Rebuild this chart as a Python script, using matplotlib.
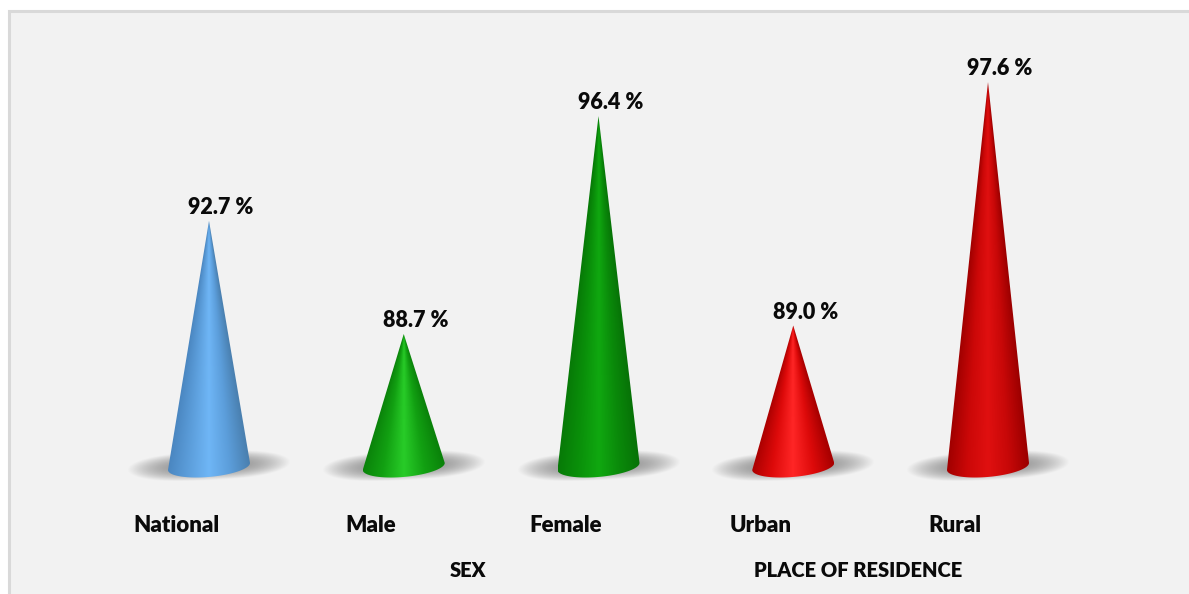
import numpy as np
import matplotlib
matplotlib.use("Agg")
import matplotlib.pyplot as plt
from matplotlib.colors import LinearSegmentedColormap
from matplotlib.patches import Polygon, Rectangle

plt.rcParams["font.family"] = ["Lato", "DejaVu Sans"]

categories = ["National", "Male", "Female", "Urban", "Rural"]
values = [92.7, 88.7, 96.4, 89.0, 97.6]
value_labels = ["92.7 %", "88.7 %", "96.4 %", "89.0 %", "97.6 %"]
groups = ["SEX", "PLACE OF RESIDENCE"]
group_pos = [1.5, 3.5]
# left edge -> highlight -> right edge
cone_colors = [
    ["#4a86c0", "#5c9edb", "#6fb6f6", "#5c9edb", "#4a80b0"],
    ["#0a820a", "#12a012", "#28cc28", "#12a012", "#0a820a"],
    ["#077a07", "#0a900a", "#10a810", "#0a8a0a", "#077207"],
    ["#a80000", "#dd0a0a", "#ff2626", "#dd0a0a", "#a80000"],
    ["#a00000", "#cc0808", "#e01010", "#c80808", "#9c0000"],
]

W, H = 1189, 594
x0_px, dx_px = 209.0, 194.75
val_ref, y_ref, px_per_val = 88.7, 334.0, 28.3
base_val = 84.02


def y_val(px):
    return val_ref + (y_ref - px) / px_per_val


def set_limits():
    ax.set_xlim(-x0_px / dx_px, (W - x0_px) / dx_px)
    ax.set_ylim(y_val(H), y_val(0))


fig = plt.figure(figsize=(W / 100, H / 100), dpi=100, facecolor="white")
ax = fig.add_axes([0, 0, 1, 1])
ax.axis("off")
set_limits()

# panel background, open towards the right and bottom
ax.add_patch(Rectangle((8.5 / W, -0.02), 1.1, 1.02 - 10.5 / H, transform=ax.transAxes,
                       fc="#f2f2f2", ec="#d9d9d9", lw=2.2, zorder=0))

half_w = 41 / dx_px
ell_b = 10.5 / px_per_val
ell_tilt = 3.5 / px_per_val

for i, (val, cols) in enumerate(zip(values, cone_colors)):
    # soft ground shadow
    ext = [i - 82 / dx_px, i + 82 / dx_px, y_val(482), y_val(446)]
    sx, sy = np.meshgrid(np.linspace(-1, 1, 180), np.linspace(1, -1, 60))
    r = np.abs(sx) ** 2.8 + (sy + 0.1 - 0.22 * sx) ** 2 * 1.5
    alpha = 0.62 * np.clip(1 - r, 0, 1) ** 1.1
    rgba = np.zeros(sx.shape + (4,))
    rgba[..., :3] = 0.36
    rgba[..., 3] = alpha
    ax.imshow(rgba, extent=ext, aspect="auto", zorder=1, interpolation="bilinear")

    # cone body: shading converges on the tip, clipped to the cone outline
    t = np.linspace(0, np.pi, 60)
    rim = np.column_stack([i + half_w * np.cos(t),
                           base_val + ell_tilt * np.cos(t) - ell_b * np.sin(t)])
    clip = Polygon(np.vstack([[i, val], rim]), closed=True, transform=ax.transData,
                   fc="none", ec="none")
    ax.add_patch(clip)
    cmap = LinearSegmentedColormap.from_list("cone", cols)
    low = base_val - 1
    gx, gy = np.meshgrid(np.linspace(-half_w, half_w, 200), np.linspace(val, low, 400))
    frac = np.maximum((val - gy) / (val - base_val), 0.01)
    u = np.clip(gx / (half_w * frac), -1, 1)
    im = ax.imshow((u + 1) / 2, extent=[i - half_w, i + half_w, low, val],
                   aspect="auto", cmap=cmap, vmin=0, vmax=1, zorder=2, interpolation="bilinear")
    im.set_clip_path(clip)

    ax.annotate(value_labels[i], (i, val), xytext=(12, 3), textcoords="offset pixels",
                ha="center", va="bottom", fontsize=15.5, fontweight="heavy", color="#0a0a0a", zorder=3)
    ax.annotate(categories[i], (i, y_val(525.5)), xytext=(-33, 0), textcoords="offset pixels",
                ha="center", va="center", fontsize=16, fontweight="heavy", color="#0a0a0a", zorder=3)

for name, pos in zip(groups, group_pos):
    ax.annotate(name, (pos, y_val(570.5)), xytext=(-33, 0), textcoords="offset pixels",
                ha="center", va="center", fontsize=14.5, fontweight="heavy", color="#0a0a0a", zorder=3)

set_limits()
fig.savefig("out.png", dpi=100, facecolor="white")
